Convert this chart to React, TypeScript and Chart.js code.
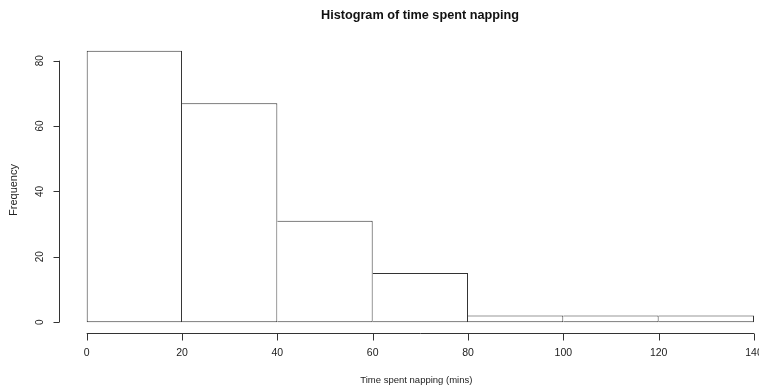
import React, { useEffect, useRef } from "react";
import { Chart, registerables } from "chart.js";

Chart.register(...registerables);

const chartTitle = "Histogram of time spent napping";
const xAxisTitle = "Time spent napping (mins)";
const yAxisTitle = "Frequency";
const binMids = [10, 30, 50, 70, 90, 110, 130];
const frequencies = [83, 67, 31, 15, 2, 2, 2];
const xTicks = [0, 20, 40, 60, 80, 100, 120, 140];
const yTicks = [0, 20, 40, 60, 80];

const LINE = "#333";
const TEXT = "#222";

const rAxesPlugin = {
  id: "rAxes",
  afterDraw(chart: any) {
    const { ctx, chartArea, scales } = chart;
    const xs = scales.x;
    const ys = scales.y;
    ctx.save();
    ctx.strokeStyle = LINE;
    ctx.lineWidth = 1;
    ctx.fillStyle = TEXT;

    // x axis
    const ax = chartArea.bottom + 0.5;
    ctx.beginPath();
    ctx.moveTo(xs.getPixelForValue(xTicks[0]), ax);
    ctx.lineTo(xs.getPixelForValue(xTicks[xTicks.length - 1]), ax);
    xTicks.forEach((t) => {
      const px = Math.round(xs.getPixelForValue(t)) + 0.5;
      ctx.moveTo(px, ax);
      ctx.lineTo(px, ax + 7);
    });
    ctx.stroke();
    ctx.font = "10.5px 'Liberation Sans', Arial, sans-serif";
    ctx.textAlign = "center";
    ctx.textBaseline = "middle";
    xTicks.forEach((t) => {
      ctx.fillText(String(t), xs.getPixelForValue(t), ax + 20);
    });
    ctx.font = "9.5px 'Liberation Sans', Arial, sans-serif";
    ctx.fillText(
      xAxisTitle,
      (xs.getPixelForValue(xTicks[0]) + xs.getPixelForValue(xTicks[xTicks.length - 1])) / 2 - 4,
      380
    );

    // y axis
    const ay = chartArea.left - 0.5;
    ctx.beginPath();
    ctx.moveTo(ay, ys.getPixelForValue(yTicks[0]));
    ctx.lineTo(ay, ys.getPixelForValue(yTicks[yTicks.length - 1]));
    yTicks.forEach((t) => {
      const py = Math.round(ys.getPixelForValue(t)) + 0.5;
      ctx.moveTo(ay, py);
      ctx.lineTo(ay - 6, py);
    });
    ctx.stroke();
    ctx.font = "10px 'Liberation Sans', Arial, sans-serif";
    yTicks.forEach((t) => {
      ctx.save();
      ctx.translate(40, ys.getPixelForValue(t));
      ctx.rotate(-Math.PI / 2);
      ctx.fillText(String(t), 0, 0);
      ctx.restore();
    });
    ctx.save();
    ctx.font = "11px 'Liberation Sans', Arial, sans-serif";
    ctx.translate(14, 190);
    ctx.rotate(-Math.PI / 2);
    ctx.fillText(yAxisTitle, 0, 0);
    ctx.restore();

    // title
    ctx.font = "bold 12.7px 'Liberation Sans', Arial, sans-serif";
    ctx.fillStyle = "#111";
    ctx.fillText(chartTitle, 420, 15);
    ctx.restore();
  },
};

export default function App() {
  const ref = useRef<HTMLCanvasElement | null>(null);
  useEffect(() => {
    if (!ref.current) return;
    const chart = new Chart(ref.current, {
      type: "bar",
      data: {
        datasets: [
          {
            label: chartTitle,
            data: binMids.map((m, i) => ({ x: m, y: frequencies[i] })),
            backgroundColor: "#ffffff",
            borderColor: LINE,
            borderWidth: 1,
            borderSkipped: (c: any) => (c.dataIndex === 0 ? false : "left"),
            inflateAmount: 0,
            barPercentage: 1,
            categoryPercentage: 1,
          } as any,
        ],
      },
      options: {
        responsive: false,
        animation: false,
        devicePixelRatio: 1,
        layout: { padding: { left: 60, right: 0, top: 40, bottom: 57 } },
        plugins: {
          legend: { display: false },
          title: { display: false },
          tooltip: { enabled: false },
        },
        scales: {
          x: { type: "linear", min: -5.6, max: 141.05, offset: false, display: false },
          y: { type: "linear", min: -3.32, max: 86.32, display: false },
        },
      },
      plugins: [rAxesPlugin],
    });
    return () => chart.destroy();
  }, []);
  return (
    <div style={{ position: "absolute", left: 0, top: 0, width: 759, height: 390, background: "#fff" }}>
      <canvas ref={ref} width={759} height={390} style={{ display: "block" }} />
    </div>
  );
}
